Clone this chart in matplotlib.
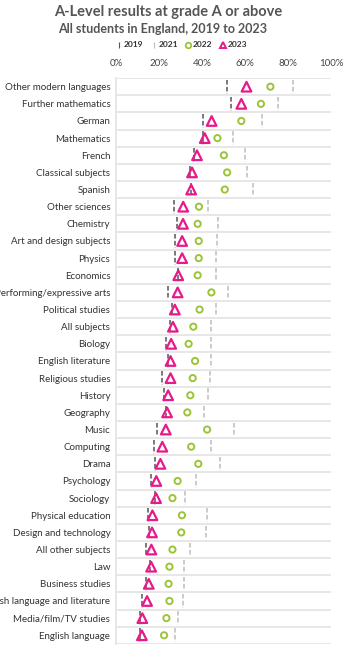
import matplotlib
matplotlib.use('Agg')
import matplotlib.pyplot as plt
from matplotlib.lines import Line2D
import matplotlib.ticker as mtick

plt.rcParams['font.family'] = ['Lato', 'DejaVu Sans']

# Share of A-level entries at grade A or above (%)
subjects = [
    'Other modern languages', 'Further mathematics', 'German', 'Mathematics',
    'French', 'Classical subjects', 'Spanish', 'Other sciences', 'Chemistry',
    'Art and design subjects', 'Physics', 'Economics', 'Performing/expressive arts',
    'Political studies', 'All subjects', 'Biology', 'English literature',
    'Religious studies', 'History', 'Geography', 'Music', 'Computing', 'Drama',
    'Psychology', 'Sociology', 'Physical education', 'Design and technology',
    'All other subjects', 'Law', 'Business studies',
    'English language and literature', 'Media/film/TV studies', 'English language',
]
y2019 = [51.7, 53.3, 40.5, 40.5, 36.4, 34.4, 34.9, 27.1, 28.3, 27.7, 27.4, 28.8, 24.0,
         26.0, 25.1, 23.4, 24.3, 21.5, 22.6, 23.4, 19.3, 17.6, 18.1, 16.5, 18.2, 14.8,
         15.6, 14.0, 16.0, 14.0, 12.0, 11.4, 11.4]
y2021 = [82.1, 75.2, 67.8, 54.5, 59.8, 60.7, 63.6, 42.8, 47.5, 47.0, 46.3, 46.7, 52.2,
         46.6, 44.4, 44.1, 44.2, 43.8, 43.0, 41.1, 54.7, 44.1, 48.4, 37.1, 32.1, 42.4,
         42.1, 34.3, 31.6, 31.8, 31.2, 29.1, 27.4]
y2022 = [71.8, 67.4, 58.3, 47.2, 50.2, 51.7, 50.6, 38.6, 38.0, 38.5, 38.5, 38.0, 44.4,
         38.9, 36.0, 33.8, 36.8, 35.7, 34.6, 33.2, 42.4, 35.0, 38.3, 28.7, 26.3, 30.7,
         30.4, 26.3, 24.9, 24.5, 24.9, 23.5, 22.4]
y2023 = [60.7, 58.3, 44.5, 41.3, 37.7, 35.4, 35.0, 31.3, 31.2, 30.8, 30.8, 29.0, 28.7,
         27.4, 26.5, 25.7, 25.4, 25.4, 24.3, 23.8, 23.2, 21.6, 20.7, 18.8, 18.7, 17.0,
         16.8, 16.5, 16.4, 15.3, 14.5, 12.3, 12.1]

c2019 = '#555555'
c2021 = '#bdbdbd'
c2022 = '#9cc43a'
c2023 = '#e8198b'

fig = plt.figure(figsize=(3.5, 6.51), dpi=100)
ax = fig.add_axes([0.331, 0.011, 0.615, 0.869])

pos = list(range(len(subjects)))

# row separators
for i in range(len(subjects) + 1):
    ax.axhline(i - 0.5, color='#e3e3e3', lw=1.2, zorder=0)

ax.vlines(y2021, [p - 0.4 for p in pos], [p + 0.4 for p in pos],
          colors=c2021, linestyles=(0, (3, 1.5)), lw=1.1, zorder=2)
ax.vlines(y2019, [p - 0.4 for p in pos], [p + 0.4 for p in pos],
          colors=c2019, linestyles=(0, (3, 1.5)), lw=1.1, zorder=2)
ax.scatter(y2022, pos, marker='o', s=20, facecolors='none', edgecolors=c2022,
           linewidths=1.4, zorder=3)
ax.scatter(y2023, pos, marker='^', s=48, facecolors='none', edgecolors=c2023,
           linewidths=1.6, zorder=4)

ax.set_xlim(0, 100)
ax.set_ylim(len(subjects) - 0.5, -0.5)
ax.set_yticks(pos)
ax.set_yticklabels(subjects, fontsize=7, color='#333333')
ax.set_xticks([0, 20, 40, 60, 80, 100])
ax.xaxis.set_major_formatter(mtick.PercentFormatter(decimals=0))
ax.xaxis.tick_top()
ax.tick_params(axis='x', length=0, labelsize=7, labelcolor='#444444', pad=7)
ax.tick_params(axis='y', length=0, pad=4)
for s in ['top', 'right', 'bottom']:
    ax.spines[s].set_visible(False)
ax.spines['left'].set_color('#e3e3e3')
ax.spines['left'].set_linewidth(1.2)

fig.text(0.48, 0.982, 'A-Level results at grade A or above', ha='center', va='center',
         fontsize=10.5, fontweight='bold', color='#555555')
fig.text(0.465, 0.956, 'All students in England, 2019 to 2023', ha='center', va='center',
         fontsize=9, fontweight='bold', color='#555555')

handles = [
    Line2D([], [], color=c2019, marker='|', ls='none', markersize=5, markeredgewidth=0.8),
    Line2D([], [], color=c2021, marker='|', ls='none', markersize=5, markeredgewidth=0.8),
    Line2D([], [], marker='o', ls='none', markersize=4, markerfacecolor='none',
           markeredgecolor=c2022, markeredgewidth=1.3),
    Line2D([], [], marker='^', ls='none', markersize=5, markerfacecolor='none',
           markeredgecolor=c2023, markeredgewidth=1.4),
]
leg = fig.legend(handles, ['2019', '2021', '2022', '2023'], loc='center',
                 bbox_to_anchor=(0.52, 0.931), ncol=4, frameon=False, fontsize=6,
                 handlelength=0.5, handletextpad=0.3, columnspacing=1.0)
for t in leg.get_texts():
    t.set_color('#333333')
    t.set_fontweight('bold')

fig.savefig('out.png', dpi=100)
